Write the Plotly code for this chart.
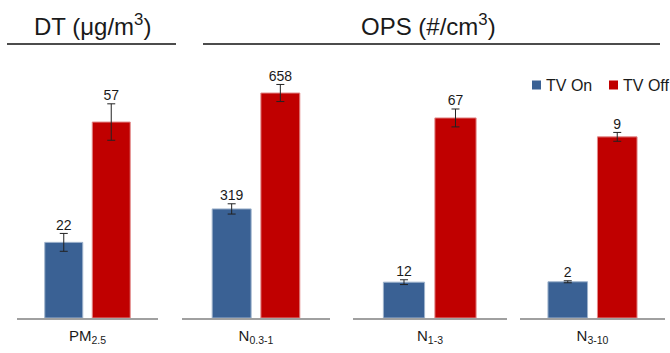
import plotly.graph_objects as go

# ---- data ----
panel_labels = ["PM<sub>2.5</sub>", "N<sub>0.3-1</sub>", "N<sub>1-3</sub>", "N<sub>3-10</sub>"]
tv_on = [22, 319, 12, 1.8]
tv_off = [57, 658, 67, 9.0]
tv_on_err = [2.6, 15, 0.8, 0.05]
tv_off_err = [5.3, 25, 3.0, 0.22]
series_names = ["TV On", "TV Off"]
group_titles = ["DT (μg/m<sup>3</sup>)", "OPS (#/cm<sup>3</sup>)"]

# ---- style ----
W, H = 670, 353
BLUE = "#3A6194"
RED = "#C00000"
FONT = "Liberation Sans, Arial, sans-serif"
TXT = "#1a1a1a"

# panel pixel extents (left, right) and y-range tops
panel_px = [(17, 158), (182, 330), (353, 507), (520, 665)]
x_ranges = [[-0.985, 1.985], [-1.02, 2.02], [-0.99, 2.0], [-0.965, 1.965]]
y_tops = [92.5, 930, 106.5, 15.8]
base_px = 318
y_dom = [1 - base_px / H, 1.0]

fig = go.Figure()
for i in range(4):
    xa = "x" if i == 0 else f"x{i+1}"
    ya = "y" if i == 0 else f"y{i+1}"
    for name, vals, errs, col, line_col in [
        (series_names[0], tv_on, tv_on_err, BLUE, "#9FB3CC"),
        (series_names[1], tv_off, tv_off_err, RED, "#E28A8A"),
    ]:
        cat = "On" if name == "TV On" else "Off"
        fig.add_trace(go.Bar(
            x=[cat], y=[vals[i]], name=name, xaxis=xa, yaxis=ya,
            marker=dict(color=col, line=dict(color=line_col, width=1)),
            error_y=dict(type="data", array=[errs[i]], color="#222", thickness=1, width=4),
            showlegend=False, hoverinfo="skip",
        ))
        fig.add_trace(go.Scatter(
            x=[cat], y=[vals[i] + errs[i]], mode="text",
            text=[f"{vals[i]:.0f}"], textposition="top center",
            textfont=dict(size=14, color=TXT, family=FONT), cliponaxis=False,
            xaxis=xa, yaxis=ya, showlegend=False, hoverinfo="skip",
        ))

layout = dict(
    width=W, height=H, margin=dict(l=0, r=0, t=0, b=0, autoexpand=False),
    paper_bgcolor="white", plot_bgcolor="white",
    barmode="overlay", bargap=0.2,
    font=dict(family=FONT, color=TXT),
    showlegend=False,
)
for i in range(4):
    sfx = "" if i == 0 else str(i + 1)
    l, r = panel_px[i]
    layout["xaxis" + sfx] = dict(
        domain=[l / W, r / W], anchor="y" + sfx, type="category",
        categoryorder="array", categoryarray=["On", "Off"],
        range=x_ranges[i], showgrid=False, zeroline=False,
        showline=True, linecolor="#A0A0A0", linewidth=1.5,
        showticklabels=False, ticks="", automargin=False,
        title=dict(text=panel_labels[i], font=dict(size=15, color=TXT, family=FONT), standoff=12),
        fixedrange=True,
    )
    layout["yaxis" + sfx] = dict(
        domain=y_dom, anchor="x" + sfx, range=[0, y_tops[i]],
        visible=False, fixedrange=True, automargin=False,
    )
fig.update_layout(**layout)

# manual legend
leg_items = [(series_names[0], BLUE, 532), (series_names[1], RED, 609)]
for name, col, px in leg_items:
    fig.add_shape(type="rect", xref="paper", yref="paper",
                  x0=px / W, x1=(px + 9) / W, y0=1 - 89.5 / H, y1=1 - 80.5 / H,
                  fillcolor=col, line=dict(width=0))
    fig.add_annotation(x=(px + 12) / W, y=1 - 85 / H, xref="paper", yref="paper",
                       text=name, showarrow=False, xanchor="left", yanchor="middle",
                       font=dict(size=16, color=TXT, family=FONT))

# group headers and lines
fig.add_annotation(x=92 / W, y=1 - 25 / H, xref="paper", yref="paper",
                   text=group_titles[0], showarrow=False,
                   font=dict(size=24, color=TXT, family=FONT), xanchor="center", yanchor="middle")
fig.add_annotation(x=428 / W, y=1 - 25 / H, xref="paper", yref="paper",
                   text=group_titles[1], showarrow=False,
                   font=dict(size=24, color=TXT, family=FONT), xanchor="center", yanchor="middle")
fig.add_shape(type="line", xref="paper", yref="paper", x0=7 / W, x1=176 / W,
              y0=1 - 44 / H, y1=1 - 44 / H, line=dict(color="#111", width=1.5))
fig.add_shape(type="line", xref="paper", yref="paper", x0=203 / W, x1=660 / W,
              y0=1 - 44 / H, y1=1 - 44 / H, line=dict(color="#111", width=1.5))

fig.write_html("out.html", config={"displayModeBar": False, "staticPlot": True})

# remove the default page margin so the figure sits at the window's top-left
with open("out.html", "r", encoding="utf-8") as f:
    html = f.read()
html = html.replace("<body>", '<body style="margin:0;overflow:hidden">', 1)
with open("out.html", "w", encoding="utf-8") as f:
    f.write(html)
